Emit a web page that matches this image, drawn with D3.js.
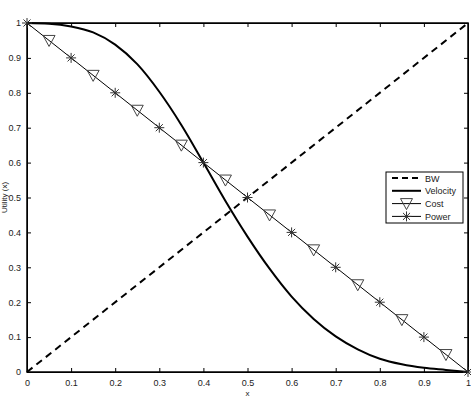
<!DOCTYPE html>
<meta charset="utf-8">
<style>
body { margin: 0; background: white; }
text { font-family: "Liberation Sans", Arial, sans-serif; fill: #222; }
.axis path, .axis line { stroke: black; }
</style>
<script src="https://d3js.org/d3.v7.min.js"></script>
<body>
<script>
// values
const xs = [0, 0.05, 0.1, 0.15, 0.2, 0.25, 0.3, 0.35, 0.4, 0.45, 0.5, 0.55, 0.6, 0.65, 0.7, 0.75, 0.8, 0.85, 0.9, 0.95, 1];
const velocity = [1, 0.998, 0.99, 0.973, 0.938, 0.882, 0.803, 0.708, 0.6, 0.49, 0.388, 0.296, 0.216, 0.152, 0.102, 0.065, 0.038, 0.022, 0.012, 0.006, 0];
const bw = [[0, 0], [1, 1]];
const costLine = [[0, 1], [1, 0]];
const costMarks = [[0.05, 0.95], [0.15, 0.85], [0.25, 0.75], [0.35, 0.65], [0.45, 0.55], [0.55, 0.45], [0.65, 0.35], [0.75, 0.25], [0.85, 0.15], [0.95, 0.05]];
const powerMarks = [[0, 1], [0.1, 0.9], [0.2, 0.8], [0.3, 0.7], [0.4, 0.6], [0.5, 0.5], [0.6, 0.4], [0.7, 0.3], [0.8, 0.2], [0.9, 0.1], [1, 0]];
const ticks = [0, 0.1, 0.2, 0.3, 0.4, 0.5, 0.6, 0.7, 0.8, 0.9, 1];
const legendNames = ['BW', 'Velocity', 'Cost', 'Power'];

const margin = { top: 23, right: 3, bottom: 28, left: 27 };
const W = 471, H = 400;
const width = W - margin.left - margin.right;
const height = H - margin.top - margin.bottom;

const svg = d3.select('body').append('svg')
    .attr('width', W).attr('height', H)
  .append('g')
    .attr('transform', `translate(${margin.left},${margin.top})`);

const x = d3.scaleLinear().domain([0, 1]).range([0, width]);
const y = d3.scaleLinear().domain([0, 1]).range([height, 0]);

const fmt = d => d === 0 || d === 1 ? String(d) : d3.format('.1f')(d);

// axes, ticks inward, box around
svg.append('g').attr('class', 'axis').attr('transform', `translate(0,${height})`)
  .call(d3.axisBottom(x).tickValues(ticks).tickFormat(fmt).tickSizeInner(-4).tickSizeOuter(0).tickPadding(8))
  .call(g => g.selectAll('text').style('font-size', '9px'));
svg.append('g').attr('class', 'axis')
  .call(d3.axisLeft(y).tickValues(ticks).tickFormat(fmt).tickSizeInner(-4).tickSizeOuter(0).tickPadding(6))
  .call(g => g.selectAll('text').style('font-size', '9px'));
svg.append('g').attr('class', 'axis')
  .call(d3.axisTop(x).tickValues(ticks).tickFormat('').tickSizeInner(-4).tickSizeOuter(0));
svg.append('g').attr('class', 'axis').attr('transform', `translate(${width},0)`)
  .call(d3.axisRight(y).tickValues(ticks).tickFormat('').tickSizeInner(-4).tickSizeOuter(0));
svg.append('rect').attr('width', width).attr('height', height)
  .attr('fill', 'none').attr('stroke', 'black').attr('stroke-width', 1.5);

svg.append('text').attr('x', width / 2).attr('y', height + 24)
  .attr('text-anchor', 'middle').style('font-size', '8px').text('x');
svg.append('text').attr('transform', `translate(-20,${height / 2}) rotate(-90)`)
  .attr('text-anchor', 'middle').style('font-size', '8px').text('Utility (x)');

const line = d3.line().x(d => x(d[0])).y(d => y(d[1]));

svg.append('path').datum(bw).attr('d', line)
  .attr('fill', 'none').attr('stroke', 'black').attr('stroke-width', 2).attr('stroke-dasharray', '7,5');
svg.append('path').datum(xs.map((v, i) => [v, velocity[i]]))
  .attr('d', line.curve(d3.curveMonotoneX))
  .attr('fill', 'none').attr('stroke', 'black').attr('stroke-width', 2);
line.curve(d3.curveLinear);
svg.append('path').datum(costLine).attr('d', line)
  .attr('fill', 'none').attr('stroke', 'black').attr('stroke-width', 1);

function triangle(g, cx, cy) {
  g.append('path').attr('d', `M${cx - 6},${cy - 5}L${cx + 6},${cy - 5}L${cx},${cy + 6}Z`)
    .attr('fill', 'none').attr('stroke', '#444').attr('stroke-width', 1);
}
function star(g, cx, cy) {
  const r = 5;
  let d = '';
  [0, 45, 90, 135].forEach(a => {
    const dx = r * Math.cos(a * Math.PI / 180), dy = r * Math.sin(a * Math.PI / 180);
    d += `M${cx - dx},${cy - dy}L${cx + dx},${cy + dy}`;
  });
  g.append('path').attr('d', d).attr('stroke', '#333').attr('stroke-width', 1);
}

costMarks.forEach(d => triangle(svg, x(d[0]), y(d[1])));
powerMarks.forEach(d => star(svg, x(d[0]), y(d[1])));

// legend
const lg = svg.append('g').attr('transform', `translate(${386 - margin.left},${172 - margin.top})`);
lg.append('rect').attr('width', 77).attr('height', 51)
  .attr('fill', 'white').attr('stroke', 'black').attr('stroke-width', 1);
legendNames.forEach((name, i) => {
  const ly = 6 + i * 12.8;
  const l = lg.append('line').attr('x1', 6).attr('x2', 35).attr('y1', ly).attr('y2', ly).attr('stroke', 'black');
  if (i === 0) l.attr('stroke-width', 2).attr('stroke-dasharray', '6,4');
  if (i === 1) l.attr('stroke-width', 2);
  if (i === 2) triangle(lg, 20.5, ly);
  if (i === 3) star(lg, 20.5, ly);
  lg.append('text').attr('x', 39).attr('y', ly + 3.5).style('font-size', '9px').text(name);
});
</script>
</body>
